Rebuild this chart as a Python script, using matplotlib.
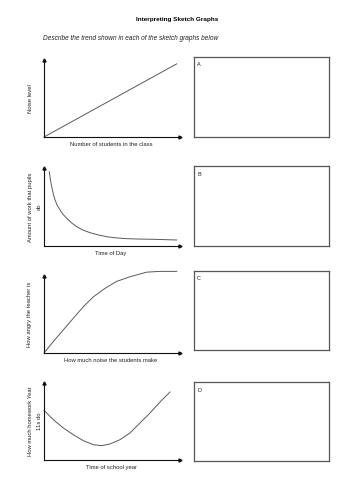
import matplotlib
matplotlib.use("Agg")
import matplotlib.pyplot as plt

plt.rcParams['font.family'] = ['Liberation Sans', 'DejaVu Sans']

title = "Interpreting Sketch Graphs"
subtitle = "Describe the trend shown in each of the sketch graphs below"
box_letters = ["A", "B", "C", "D"]
x_labels = ["Number of students in the class", "Time of Day",
            "How much noise the students make", "Time of school year"]
y_labels = ["Noise level", "Amount of work that pupils\ndo",
            "How angry the teacher is", "How much homework Year\n11s do"]

# sketch curves (fractions of each axis)
noise_x = [0.0, 0.976]
noise_y = [0.0, 0.95]

work_x = [0.039, 0.047, 0.057, 0.068, 0.081, 0.098, 0.118, 0.140, 0.167, 0.200,
          0.240, 0.285, 0.338, 0.400, 0.461, 0.530, 0.608, 0.700, 0.804, 0.976]
work_y = [0.952, 0.850, 0.760, 0.670, 0.590, 0.520, 0.462, 0.405, 0.355, 0.300,
          0.248, 0.205, 0.171, 0.142, 0.119, 0.104, 0.094, 0.089, 0.086, 0.077]

angry_x = [0.0, 0.069, 0.142, 0.215, 0.289, 0.363, 0.449, 0.534, 0.632, 0.755, 0.853, 0.976]
angry_y = [0.0, 0.15, 0.30, 0.45, 0.60, 0.73, 0.84, 0.93, 0.99, 1.05, 1.06, 1.06]

hw_x = [0.0, 0.069, 0.142, 0.215, 0.289, 0.363, 0.424, 0.485, 0.559, 0.632, 0.706, 0.779, 0.853, 0.926]
hw_y = [0.645, 0.523, 0.416, 0.329, 0.251, 0.199, 0.186, 0.208, 0.264, 0.351, 0.481, 0.610, 0.753, 0.883]

curves = [(noise_x, noise_y), (work_x, work_y), (angry_x, angry_y), (hw_x, hw_y)]

W, H = 354, 500
fig = plt.figure(figsize=(W / 100, H / 100), dpi=100)


def fx(x):
    return x / W


def fy(y):
    return 1 - y / H


fig.text(fx(177), fy(20), title, ha='center', va='center', fontsize=4.6, fontweight='bold')
fig.text(fx(43), fy(38), subtitle, ha='left', va='center', fontsize=4.7, style='italic', color='#222222')

# (origin y, top y) of each graph, and (top, bottom) of each answer box, in pixels
graph_rows = [(137, 60), (246, 168), (353, 276), (460, 383)]
box_rows = [(57, 137), (166, 246), (271, 350), (382, 461)]

for i in range(4):
    y0, y1 = graph_rows[i]
    ax = fig.add_axes([fx(44), fy(y0), fx(136), (y0 - y1) / H])
    ax.set_xlim(0, 1)
    ax.set_ylim(0, 1)
    for s in ['top', 'right']:
        ax.spines[s].set_visible(False)
    for s in ['left', 'bottom']:
        ax.spines[s].set_linewidth(0.8)
        ax.spines[s].set_color('#111111')
    ax.set_xticks([])
    ax.set_yticks([])
    ax.patch.set_alpha(0)
    ax.plot(1, 0, '>', transform=ax.transAxes, clip_on=False, ms=2.2, color='#111111')
    ax.plot(0, 1, '^', transform=ax.transAxes, clip_on=False, ms=2.2, color='#111111')
    cx, cy = curves[i]
    ax.plot(cx, cy, color='#5a5a5a', lw=0.7, clip_on=False)

    fig.text(fx(111), fy(y0 + 8), x_labels[i], ha='center', va='center', fontsize=4.2, color='#222222')
    yl_x = 35 if "\n" in y_labels[i] else 30
    fig.text(fx(yl_x), fy((y0 + y1) / 2), y_labels[i], ha='center', va='center', rotation=90,
             fontsize=4.2, color='#222222', multialignment='center', linespacing=2.1)

    t, b = box_rows[i]
    bx = fig.add_axes([fx(194), fy(b), fx(135), (b - t) / H])
    bx.set_xticks([])
    bx.set_yticks([])
    for s in bx.spines.values():
        s.set_color('#555555')
        s.set_linewidth(0.9)
    fig.text(fx(199), fy(t + 8), box_letters[i], ha='center', va='center', fontsize=4.0, color='#222222')

fig.savefig('out.png', dpi=100, facecolor='white')
